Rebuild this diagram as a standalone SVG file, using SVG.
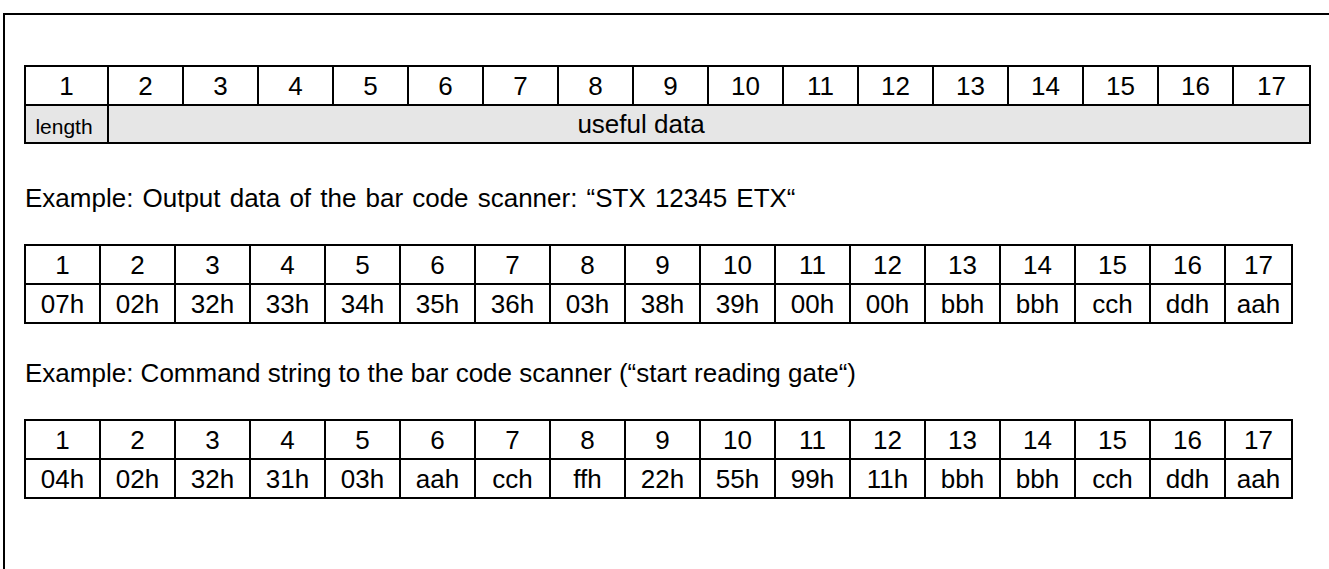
<svg xmlns="http://www.w3.org/2000/svg" width="1329" height="569" viewBox="0 0 1329 569">
  <style>
    .frame { fill: none; stroke: #000; stroke-width: 2; }
    .cell { fill: #fff; stroke: #000; stroke-width: 2; }
    .shade { fill: #e6e6e6; stroke: #000; stroke-width: 2; }
    text { font-family: "Liberation Sans", Arial, sans-serif; font-size: 26px; fill: #000; }
    .c { text-anchor: middle; }
    .small { font-size: 21px; }
  </style>
  <rect width="1329" height="569" fill="#fff"/>
  <!-- outer frame, open at bottom -->
  <path class="frame" d="M4,569 V14 H1329"/>

  <!-- telegram layout: byte index / meaning -->
  <g id="layout">
    <rect class="cell" x="25" y="66" width="83" height="39"/>
    <rect class="cell" x="108" y="66" width="75" height="39"/>
    <rect class="cell" x="183" y="66" width="75" height="39"/>
    <rect class="cell" x="258" y="66" width="75" height="39"/>
    <rect class="cell" x="333" y="66" width="75" height="39"/>
    <rect class="cell" x="408" y="66" width="75" height="39"/>
    <rect class="cell" x="483" y="66" width="75" height="39"/>
    <rect class="cell" x="558" y="66" width="75" height="39"/>
    <rect class="cell" x="633" y="66" width="75" height="39"/>
    <rect class="cell" x="708" y="66" width="75" height="39"/>
    <rect class="cell" x="783" y="66" width="75" height="39"/>
    <rect class="cell" x="858" y="66" width="75" height="39"/>
    <rect class="cell" x="933" y="66" width="75" height="39"/>
    <rect class="cell" x="1008" y="66" width="75" height="39"/>
    <rect class="cell" x="1083" y="66" width="75" height="39"/>
    <rect class="cell" x="1158" y="66" width="75" height="39"/>
    <rect class="cell" x="1233" y="66" width="77" height="39"/>
    <rect class="shade" x="25" y="105" width="83" height="38"/>
    <rect class="shade" x="108" y="105" width="1202" height="38"/>
    <g class="c">
      <text x="66.5" y="95">1</text>
      <text x="145.5" y="95">2</text>
      <text x="220.5" y="95">3</text>
      <text x="295.5" y="95">4</text>
      <text x="370.5" y="95">5</text>
      <text x="445.5" y="95">6</text>
      <text x="520.5" y="95">7</text>
      <text x="595.5" y="95">8</text>
      <text x="670.5" y="95">9</text>
      <text x="745.5" y="95">10</text>
      <text x="820.5" y="95">11</text>
      <text x="895.5" y="95">12</text>
      <text x="970.5" y="95">13</text>
      <text x="1045.5" y="95">14</text>
      <text x="1120.5" y="95">15</text>
      <text x="1195.5" y="95">16</text>
      <text x="1271.5" y="95">17</text>
      <text class="small" x="64" y="134">length</text>
      <text x="641" y="133">useful data</text>
    </g>
  </g>

  <text x="25" y="207" word-spacing="1.9">Example: Output data of the bar code scanner: “STX 12345 ETX“</text>

  <!-- output data example -->
  <g id="output-example">
    <g>
      <rect class="cell" x="25" y="245" width="75" height="39"/>
      <rect class="cell" x="100" y="245" width="75" height="39"/>
      <rect class="cell" x="175" y="245" width="75" height="39"/>
      <rect class="cell" x="250" y="245" width="75" height="39"/>
      <rect class="cell" x="325" y="245" width="75" height="39"/>
      <rect class="cell" x="400" y="245" width="75" height="39"/>
      <rect class="cell" x="475" y="245" width="75" height="39"/>
      <rect class="cell" x="550" y="245" width="75" height="39"/>
      <rect class="cell" x="625" y="245" width="75" height="39"/>
      <rect class="cell" x="700" y="245" width="75" height="39"/>
      <rect class="cell" x="775" y="245" width="75" height="39"/>
      <rect class="cell" x="850" y="245" width="75" height="39"/>
      <rect class="cell" x="925" y="245" width="75" height="39"/>
      <rect class="cell" x="1000" y="245" width="75" height="39"/>
      <rect class="cell" x="1075" y="245" width="75" height="39"/>
      <rect class="cell" x="1150" y="245" width="75" height="39"/>
      <rect class="cell" x="1225" y="245" width="67" height="39"/>
      <rect class="cell" x="25" y="284" width="75" height="39"/>
      <rect class="cell" x="100" y="284" width="75" height="39"/>
      <rect class="cell" x="175" y="284" width="75" height="39"/>
      <rect class="cell" x="250" y="284" width="75" height="39"/>
      <rect class="cell" x="325" y="284" width="75" height="39"/>
      <rect class="cell" x="400" y="284" width="75" height="39"/>
      <rect class="cell" x="475" y="284" width="75" height="39"/>
      <rect class="cell" x="550" y="284" width="75" height="39"/>
      <rect class="cell" x="625" y="284" width="75" height="39"/>
      <rect class="cell" x="700" y="284" width="75" height="39"/>
      <rect class="cell" x="775" y="284" width="75" height="39"/>
      <rect class="cell" x="850" y="284" width="75" height="39"/>
      <rect class="cell" x="925" y="284" width="75" height="39"/>
      <rect class="cell" x="1000" y="284" width="75" height="39"/>
      <rect class="cell" x="1075" y="284" width="75" height="39"/>
      <rect class="cell" x="1150" y="284" width="75" height="39"/>
      <rect class="cell" x="1225" y="284" width="67" height="39"/>
    </g>
    <g class="c">
      <text x="62.5" y="274">1</text>
      <text x="137.5" y="274">2</text>
      <text x="212.5" y="274">3</text>
      <text x="287.5" y="274">4</text>
      <text x="362.5" y="274">5</text>
      <text x="437.5" y="274">6</text>
      <text x="512.5" y="274">7</text>
      <text x="587.5" y="274">8</text>
      <text x="662.5" y="274">9</text>
      <text x="737.5" y="274">10</text>
      <text x="812.5" y="274">11</text>
      <text x="887.5" y="274">12</text>
      <text x="962.5" y="274">13</text>
      <text x="1037.5" y="274">14</text>
      <text x="1112.5" y="274">15</text>
      <text x="1187.5" y="274">16</text>
      <text x="1258.5" y="274">17</text>
      <text x="62.5" y="313">07h</text>
      <text x="137.5" y="313">02h</text>
      <text x="212.5" y="313">32h</text>
      <text x="287.5" y="313">33h</text>
      <text x="362.5" y="313">34h</text>
      <text x="437.5" y="313">35h</text>
      <text x="512.5" y="313">36h</text>
      <text x="587.5" y="313">03h</text>
      <text x="662.5" y="313">38h</text>
      <text x="737.5" y="313">39h</text>
      <text x="812.5" y="313">00h</text>
      <text x="887.5" y="313">00h</text>
      <text x="962.5" y="313">bbh</text>
      <text x="1037.5" y="313">bbh</text>
      <text x="1112.5" y="313">cch</text>
      <text x="1187.5" y="313">ddh</text>
      <text x="1258.5" y="313">aah</text>
    </g>
  </g>

  <text x="25" y="382">Example: Command string to the bar code scanner (“start reading gate“)</text>

  <!-- command string example -->
  <g id="command-example">
    <g>
      <rect class="cell" x="25" y="420" width="75" height="39"/>
      <rect class="cell" x="100" y="420" width="75" height="39"/>
      <rect class="cell" x="175" y="420" width="75" height="39"/>
      <rect class="cell" x="250" y="420" width="75" height="39"/>
      <rect class="cell" x="325" y="420" width="75" height="39"/>
      <rect class="cell" x="400" y="420" width="75" height="39"/>
      <rect class="cell" x="475" y="420" width="75" height="39"/>
      <rect class="cell" x="550" y="420" width="75" height="39"/>
      <rect class="cell" x="625" y="420" width="75" height="39"/>
      <rect class="cell" x="700" y="420" width="75" height="39"/>
      <rect class="cell" x="775" y="420" width="75" height="39"/>
      <rect class="cell" x="850" y="420" width="75" height="39"/>
      <rect class="cell" x="925" y="420" width="75" height="39"/>
      <rect class="cell" x="1000" y="420" width="75" height="39"/>
      <rect class="cell" x="1075" y="420" width="75" height="39"/>
      <rect class="cell" x="1150" y="420" width="75" height="39"/>
      <rect class="cell" x="1225" y="420" width="67" height="39"/>
      <rect class="cell" x="25" y="459" width="75" height="39"/>
      <rect class="cell" x="100" y="459" width="75" height="39"/>
      <rect class="cell" x="175" y="459" width="75" height="39"/>
      <rect class="cell" x="250" y="459" width="75" height="39"/>
      <rect class="cell" x="325" y="459" width="75" height="39"/>
      <rect class="cell" x="400" y="459" width="75" height="39"/>
      <rect class="cell" x="475" y="459" width="75" height="39"/>
      <rect class="cell" x="550" y="459" width="75" height="39"/>
      <rect class="cell" x="625" y="459" width="75" height="39"/>
      <rect class="cell" x="700" y="459" width="75" height="39"/>
      <rect class="cell" x="775" y="459" width="75" height="39"/>
      <rect class="cell" x="850" y="459" width="75" height="39"/>
      <rect class="cell" x="925" y="459" width="75" height="39"/>
      <rect class="cell" x="1000" y="459" width="75" height="39"/>
      <rect class="cell" x="1075" y="459" width="75" height="39"/>
      <rect class="cell" x="1150" y="459" width="75" height="39"/>
      <rect class="cell" x="1225" y="459" width="67" height="39"/>
    </g>
    <g class="c">
      <text x="62.5" y="449">1</text>
      <text x="137.5" y="449">2</text>
      <text x="212.5" y="449">3</text>
      <text x="287.5" y="449">4</text>
      <text x="362.5" y="449">5</text>
      <text x="437.5" y="449">6</text>
      <text x="512.5" y="449">7</text>
      <text x="587.5" y="449">8</text>
      <text x="662.5" y="449">9</text>
      <text x="737.5" y="449">10</text>
      <text x="812.5" y="449">11</text>
      <text x="887.5" y="449">12</text>
      <text x="962.5" y="449">13</text>
      <text x="1037.5" y="449">14</text>
      <text x="1112.5" y="449">15</text>
      <text x="1187.5" y="449">16</text>
      <text x="1258.5" y="449">17</text>
      <text x="62.5" y="488">04h</text>
      <text x="137.5" y="488">02h</text>
      <text x="212.5" y="488">32h</text>
      <text x="287.5" y="488">31h</text>
      <text x="362.5" y="488">03h</text>
      <text x="437.5" y="488">aah</text>
      <text x="512.5" y="488">cch</text>
      <text x="587.5" y="488">ffh</text>
      <text x="662.5" y="488">22h</text>
      <text x="737.5" y="488">55h</text>
      <text x="812.5" y="488">99h</text>
      <text x="887.5" y="488">11h</text>
      <text x="962.5" y="488">bbh</text>
      <text x="1037.5" y="488">bbh</text>
      <text x="1112.5" y="488">cch</text>
      <text x="1187.5" y="488">ddh</text>
      <text x="1258.5" y="488">aah</text>
    </g>
  </g>
</svg>
